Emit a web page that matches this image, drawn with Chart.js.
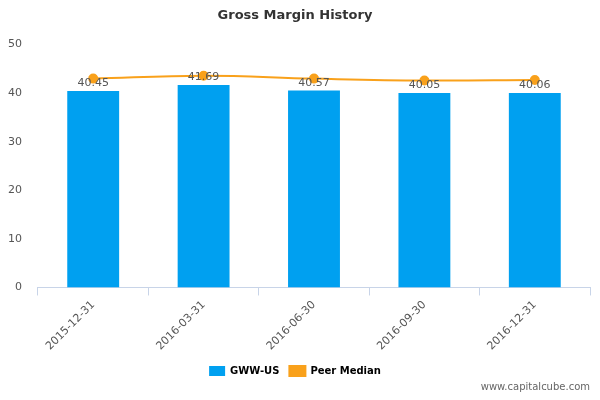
<!DOCTYPE html>
<html><head><script src="https://cdn.jsdelivr.net/npm/chart.js@4"></script>
<style>body{margin:0;background:#fff}#w{position:relative;width:600px;height:400px}#wm{position:absolute;right:10px;bottom:8px;font:10px "DejaVu Sans",sans-serif;color:#666}</style>
</head><body><div id="w"><canvas id="c" width="600" height="400"></canvas><div id="wm">www.capitalcube.com</div></div>
<script>
const categories=["2015-12-31","2016-03-31","2016-06-30","2016-09-30","2016-12-31"];
const companyValues=[40.45,41.69,40.57,40.05,40.06];
const peerMedian=[43.0,43.6,43.0,42.6,42.7];
const yTicks=[0,10,20,30,40,50];
const labelPlugin={id:"lbl",afterDatasetsDraw(ch){const ctx=ch.ctx;const m=ch.getDatasetMeta(1);ctx.save();ctx.font='11px "DejaVu Sans",sans-serif';ctx.fillStyle="#555";ctx.textAlign="center";ctx.textBaseline="bottom";m.data.forEach((b,i)=>ctx.fillText(companyValues[i].toFixed(2),b.x,b.y-2));ctx.restore();}};
new Chart(document.getElementById("c"),{
data:{labels:categories,datasets:[
{type:"line",label:"Peer Median",data:peerMedian,borderColor:"#f9a11b",backgroundColor:"#f9a11b",borderWidth:2,pointRadius:4,pointBackgroundColor:"#f9a11b",tension:0.4,order:0},
{type:"bar",label:"GWW-US",data:companyValues,backgroundColor:"#00a0f0",barPercentage:0.47,categoryPercentage:1,order:1}]},
options:{responsive:false,animation:false,
layout:{padding:{left:0,right:10,top:0,bottom:14}},
plugins:{title:{display:true,text:"Gross Margin History",font:{family:"DejaVu Sans",size:13,weight:"bold"},color:"#333",padding:{top:8,bottom:21}},
legend:{position:"bottom",labels:{font:{family:"DejaVu Sans",size:10,weight:"bold"},color:"#333",boxWidth:16,boxHeight:10,
generateLabels(ch){return [{text:"GWW-US",fillStyle:"#00a0f0",strokeStyle:"#00a0f0",lineWidth:0,datasetIndex:1},{text:"Peer Median",fillStyle:"#f9a11b",strokeStyle:"#f9a11b",lineWidth:2,datasetIndex:0}];}}},
tooltip:{enabled:false}},
scales:{y:{min:0,max:50,afterBuildTicks(a){a.ticks=yTicks.map(v=>({value:v}));},grid:{display:false},border:{display:false},ticks:{font:{family:"DejaVu Sans",size:11},color:"#555",padding:8}},
x:{grid:{display:true,drawOnChartArea:false,tickLength:8,color:"#c8d4e8",offset:true},border:{color:"#c8d4e8"},ticks:{font:{family:"DejaVu Sans",size:11},color:"#555",maxRotation:45,minRotation:45}}}},
plugins:[labelPlugin]});
</script></body></html>
